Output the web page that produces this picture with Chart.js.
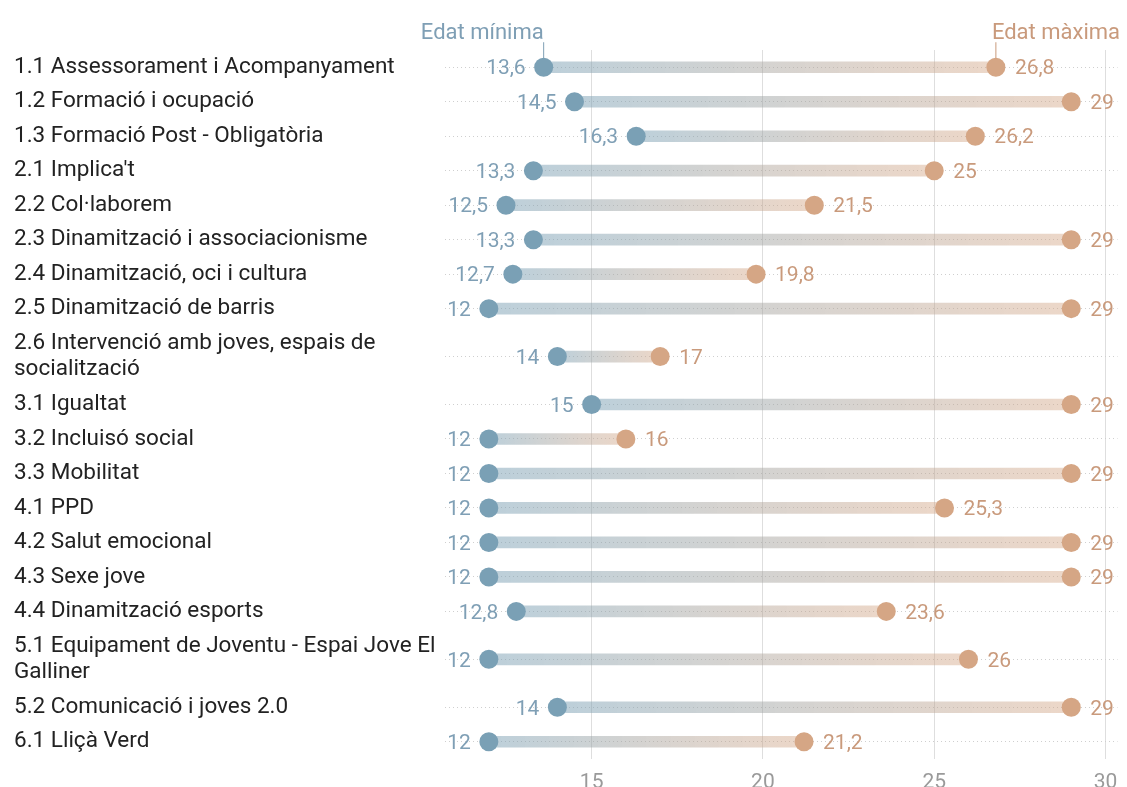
<!DOCTYPE html>
<html>
<head>
<meta charset="utf-8">
<script src="https://cdn.jsdelivr.net/npm/chart.js@4.4.1/dist/chart.umd.min.js"></script>
<style>
  html, body { margin: 0; padding: 0; background: #fff; }
  #wrap { width: 1127px; height: 787px; }
</style>
</head>
<body>
<div id="wrap"><canvas id="dumbbell" width="1127" height="787"></canvas></div>
<script>
// Dades del gràfic
const labels = [
  '1.1 Assessorament i Acompanyament',
  '1.2 Formació i ocupació',
  '1.3 Formació Post - Obligatòria',
  "2.1 Implica't",
  '2.2 Col·laborem',
  '2.3 Dinamització i associacionisme',
  '2.4 Dinamització, oci i cultura',
  '2.5 Dinamització de barris',
  ['2.6 Intervenció amb joves, espais de', 'socialització'],
  '3.1 Igualtat',
  '3.2 Incluisó social',
  '3.3 Mobilitat',
  '4.1 PPD',
  '4.2 Salut emocional',
  '4.3 Sexe jove',
  '4.4 Dinamització esports',
  ['5.1 Equipament de Joventu - Espai Jove El', 'Galliner'],
  '5.2 Comunicació i joves 2.0',
  '6.1 Lliçà Verd'
];
const edatMinima = [13.6, 14.5, 16.3, 13.3, 12.5, 13.3, 12.7, 12, 14, 15, 12, 12, 12, 12, 12, 12.8, 12, 14, 12];
const edatMaxima = [26.8, 29, 26.2, 25, 21.5, 29, 19.8, 29, 17, 29, 16, 29, 25.3, 29, 29, 23.6, 26, 29, 21.2];
const xTicks = [15, 20, 25, 30];

const blau = '#7aa0b5';
const taronja = '#d5a685';
const textBlau = '#7f9fb5';
const textTaronja = '#c99a7c';

// Les files amb etiqueta de dues línies són més altes
const rowHeight = labels.map(l => Array.isArray(l) ? 1.78 : 1);
const rowPos = [];
let acc = 0;
rowHeight.forEach(h => { rowPos.push(acc + h / 2); acc += h; });
const totalRows = acc;

const fmt = v => String(v).replace('.', ',');

// Etiquetes de valor i anotacions
const valueLabels = {
  id: 'valueLabels',
  afterDatasetsDraw(chart) {
    const ctx = chart.ctx;
    const minMeta = chart.getDatasetMeta(1);
    const maxMeta = chart.getDatasetMeta(2);
    ctx.save();
    ctx.font = '21px Roboto';
    ctx.textBaseline = 'middle';
    minMeta.data.forEach((pt, i) => {
      ctx.fillStyle = textBlau;
      ctx.textAlign = 'right';
      ctx.fillText(fmt(edatMinima[i]), pt.x - 18, pt.y + 2);
    });
    maxMeta.data.forEach((pt, i) => {
      ctx.fillStyle = textTaronja;
      ctx.textAlign = 'left';
      ctx.fillText(fmt(edatMaxima[i]), pt.x + 19, pt.y + 2);
    });

    // "Edat mínima" / "Edat màxima" sobre la primera fila
    const p0 = minMeta.data[0], p1 = maxMeta.data[0];
    ctx.lineWidth = 1;
    ctx.strokeStyle = textBlau;
    ctx.beginPath(); ctx.moveTo(p0.x, p0.y - 25); ctx.lineTo(p0.x, p0.y - 9); ctx.stroke();
    ctx.strokeStyle = textTaronja;
    ctx.beginPath(); ctx.moveTo(p1.x, p1.y - 25); ctx.lineTo(p1.x, p1.y - 9); ctx.stroke();
    ctx.font = '22px Roboto';
    ctx.textBaseline = 'alphabetic';
    ctx.fillStyle = textBlau;
    ctx.textAlign = 'right';
    ctx.fillText('Edat mínima', p0.x, p0.y - 28);
    ctx.fillStyle = textTaronja;
    ctx.textAlign = 'left';
    ctx.fillText('Edat màxima', p1.x - 4, p1.y - 28);
    ctx.restore();
  }
};

const barGradient = (c) => {
  const chart = c.chart;
  if (!chart.chartArea || !c.raw) return blau;
  const xs = chart.scales.x;
  const x0 = xs.getPixelForValue(c.raw.x[0]);
  const x1 = xs.getPixelForValue(c.raw.x[1]);
  const g = chart.ctx.createLinearGradient(x0, 0, x1, 0);
  g.addColorStop(0, 'rgba(122,160,181,0.5)');
  g.addColorStop(1, 'rgba(213,166,133,0.45)');
  return g;
};

new Chart(document.getElementById('dumbbell'), {
  data: {
    datasets: [
      {
        type: 'bar',
        data: labels.map((l, i) => ({ x: [edatMinima[i], edatMaxima[i]], y: rowPos[i] })),
        backgroundColor: barGradient,
        barThickness: 11,
        borderWidth: 0,
        order: 3
      },
      {
        type: 'scatter',
        data: labels.map((l, i) => ({ x: edatMinima[i], y: rowPos[i] })),
        pointRadius: 9.5,
        pointBackgroundColor: blau,
        pointBorderWidth: 0,
        order: 1
      },
      {
        type: 'scatter',
        data: labels.map((l, i) => ({ x: edatMaxima[i], y: rowPos[i] })),
        pointRadius: 9.5,
        pointBackgroundColor: taronja,
        pointBorderWidth: 0,
        order: 2
      }
    ]
  },
  options: {
    indexAxis: 'y',
    responsive: false,
    animation: false,
    events: [],
    layout: { padding: { left: 14, right: 7, top: 50, bottom: 0 } },
    plugins: { legend: { display: false }, tooltip: { enabled: false } },
    scales: {
      x: {
        type: 'linear',
        position: 'bottom',
        min: 10.72,
        max: 30.35,
        offset: false,
        afterBuildTicks: s => { s.ticks = xTicks.map(v => ({ value: v })); },
        afterFit: s => { s.height = 28; s.paddingLeft = 0; s.paddingRight = 0; },
        grid: { color: '#dedede', lineWidth: 1, drawTicks: true, tickLength: 7, tickColor: 'rgba(0,0,0,0)', offset: false },
        border: { display: false },
        ticks: { color: '#9a9a9a', font: { family: 'Roboto', size: 21 }, padding: 4 }
      },
      y: {
        type: 'linear',
        position: 'left',
        reverse: true,
        offset: false,
        min: 0,
        max: totalRows,
        afterBuildTicks: s => { s.ticks = rowPos.map(v => ({ value: v })); },
        afterFit: s => { s.width = 431; },
        grid: { color: '#cfcfcf', lineWidth: 1, drawTicks: false, offset: false },
        border: { display: false, dash: [1, 3] },
        ticks: {
          autoSkip: false,
          crossAlign: 'far',
          color: '#222',
          font: { family: 'Roboto', size: 22.5, lineHeight: 1.17 },
          callback: (v, i) => labels[i]
        }
      }
    }
  },
  plugins: [valueLabels]
});
</script>
</body>
</html>
